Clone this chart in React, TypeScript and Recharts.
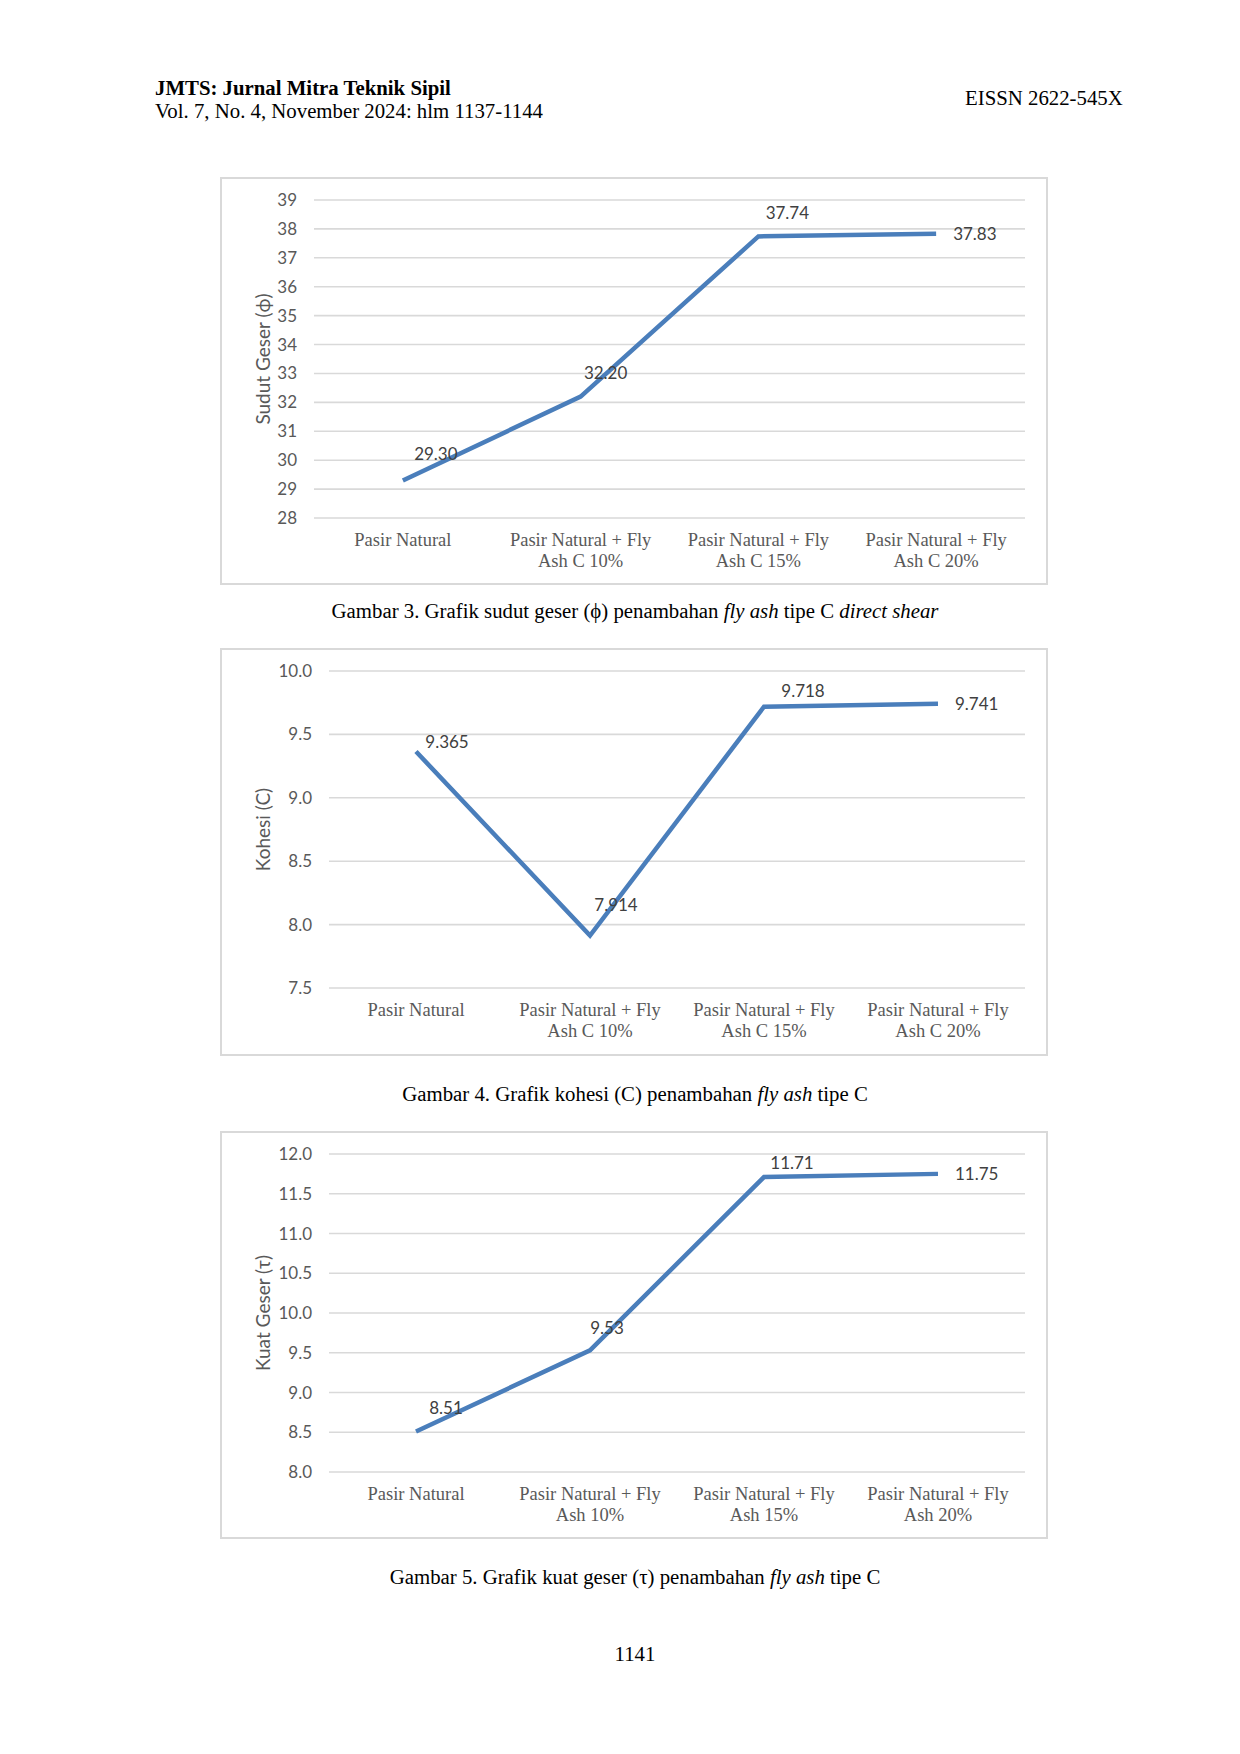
import { LineChart, Line, XAxis, YAxis, CartesianGrid, LabelList } from 'recharts'

const sudutCategories = ['Pasir Natural', 'Pasir Natural + Fly Ash C 10%', 'Pasir Natural + Fly Ash C 15%', 'Pasir Natural + Fly Ash C 20%']
const sudutValues = [29.3, 32.2, 37.74, 37.83]
const sudutTicks = [28, 29, 30, 31, 32, 33, 34, 35, 36, 37, 38, 39]

const kohesiCategories = ['Pasir Natural', 'Pasir Natural + Fly Ash C 10%', 'Pasir Natural + Fly Ash C 15%', 'Pasir Natural + Fly Ash C 20%']
const kohesiValues = [9.365, 7.914, 9.718, 9.741]
const kohesiTicks = [7.5, 8.0, 8.5, 9.0, 9.5, 10.0]

const kuatCategories = ['Pasir Natural', 'Pasir Natural + Fly Ash 10%', 'Pasir Natural + Fly Ash 15%', 'Pasir Natural + Fly Ash 20%']
const kuatValues = [8.51, 9.53, 11.71, 11.75]
const kuatTicks = [8.0, 8.5, 9.0, 9.5, 10.0, 10.5, 11.0, 11.5, 12.0]

const SERIF = '"Liberation Serif", "Times New Roman", serif'
const SANS = 'Lato, "Open Sans", sans-serif'
const CHART_W = 828
const CHART_H = 408

interface ChartProps {
  top: number
  categories: string[]
  values: number[]
  ticks: number[]
  tickDecimals: number
  labelDecimals: number
  title: string
  plot: { left: number; right: number; top: number; bottom: number }
  labelOffsets: [number, number][]
}

function CategoryTick({ x, y, payload }: any) {
  const text: string = payload.value
  const idx = text.indexOf('Fly ')
  const lines = idx >= 0 ? [text.slice(0, idx + 3), text.slice(idx + 4)] : [text]
  return (
    <text x={x} textAnchor="middle" fill="#595959" fontFamily={SERIF} fontSize={18.5}>
      {lines.map((l, i) => (
        <tspan key={i} x={x} y={y + 22 + i * 21} dominantBaseline="central">
          {l}
        </tspan>
      ))}
    </text>
  )
}

function LineChartPanel({ top, categories, values, ticks, tickDecimals, labelDecimals, title, plot, labelOffsets }: ChartProps) {
  const data = categories.map((name, i) => ({ name, v: values[i] }))
  const plotW = CHART_W - plot.left - plot.right
  const pad = plotW / 8

  const renderLabel = (props: any) => {
    const { x, y, value } = props
    const i = values.indexOf(value)
    const text = Number(value).toFixed(labelDecimals)
    if (i === values.length - 1) {
      return (
        <text x={x + 17} y={y} textAnchor="start" dominantBaseline="central" fill="#404040" fontFamily={SANS} fontSize={17}>
          {text}
        </text>
      )
    }
    const [dx, dy] = labelOffsets[i] ?? [28, -22]
    return (
      <text x={x + dx} y={y + dy} textAnchor="middle" dominantBaseline="central" fill="#404040" fontFamily={SANS} fontSize={17}>
        {text}
      </text>
    )
  }

  return (
    <div style={{ position: 'absolute', left: 220, top, width: CHART_W, height: CHART_H, outline: '2px solid #d9d9d9', outlineOffset: -2 }}>
      <LineChart width={CHART_W} height={CHART_H} data={data} margin={{ top: plot.top, right: plot.right, left: 0, bottom: 0 }}>
        <CartesianGrid vertical={false} stroke="#d9d9d9" strokeWidth={1.6} />
        <XAxis
          dataKey="name"
          interval={0}
          axisLine={false}
          tickLine={false}
          tickSize={0}
          tickMargin={0}
          height={plot.bottom}
          padding={{ left: pad, right: pad }}
          tick={<CategoryTick />}
        />
        <YAxis
          type="number"
          domain={[ticks[0], ticks[ticks.length - 1]]}
          ticks={ticks}
          interval={0}
          width={plot.left}
          axisLine={false}
          tickLine={false}
          tickSize={0}
          tickMargin={17}
          tickFormatter={(t: number) => t.toFixed(tickDecimals)}
          tick={{ fill: '#595959', fontFamily: SANS, fontSize: 17 }}
          label={(p: any) => {
            const vb = p.viewBox || {}
            const cy = (vb.y ?? plot.top) + (vb.height ?? 0) / 2
            return (
              <text
                x={42}
                y={cy}
                transform={`rotate(-90, 42, ${cy})`}
                textAnchor="middle"
                dominantBaseline="central"
                fill="#595959"
                fontFamily={SANS}
                fontSize={19}
              >
                {title}
              </text>
            )
          }}
        />
        <Line type="linear" dataKey="v" stroke="#4a7ebb" strokeWidth={4.5} dot={false} isAnimationActive={false}>
          <LabelList dataKey="v" content={renderLabel} />
        </Line>
      </LineChart>
    </div>
  )
}

const textBase = { position: 'absolute' as const, fontFamily: SERIF, fontSize: 20.8, lineHeight: '24px', color: '#000', whiteSpace: 'nowrap' as const }

export default function App() {
  return (
    <div style={{ position: 'absolute', left: 0, top: 0, width: 1240, height: 1754, background: '#fff' }}>
      <div style={{ ...textBase, left: 155, top: 76, fontWeight: 'bold' }}>JMTS: Jurnal Mitra Teknik Sipil</div>
      <div style={{ ...textBase, left: 155, top: 99 }}>Vol. 7, No. 4, November 2024: hlm 1137-1144</div>
      <div style={{ ...textBase, left: 965, top: 86 }}>EISSN 2622-545X</div>

      <LineChartPanel
        top={177}
        categories={sudutCategories}
        values={sudutValues}
        ticks={sudutTicks}
        tickDecimals={0}
        labelDecimals={2}
        title="Sudut Geser (ϕ)"
        plot={{ left: 94, right: 23, top: 23, bottom: 67 }}
        labelOffsets={[[33, -27], [25, -24], [29, -24]]}
      />
      <div style={{ ...textBase, left: 150, width: 970, textAlign: 'center', top: 599 }}>
        Gambar 3. Grafik sudut geser (ϕ) penambahan <i>fly ash</i> tipe C <i>direct shear</i>
      </div>

      <LineChartPanel
        top={648}
        categories={kohesiCategories}
        values={kohesiValues}
        ticks={kohesiTicks}
        tickDecimals={1}
        labelDecimals={3}
        title="Kohesi (C)"
        plot={{ left: 109, right: 23, top: 23, bottom: 68 }}
        labelOffsets={[[31, -10], [26, -31], [39, -16]]}
      />
      <div style={{ ...textBase, left: 150, width: 970, textAlign: 'center', top: 1082 }}>
        Gambar 4. Grafik kohesi (C) penambahan <i>fly ash</i> tipe C
      </div>

      <LineChartPanel
        top={1131}
        categories={kuatCategories}
        values={kuatValues}
        ticks={kuatTicks}
        tickDecimals={1}
        labelDecimals={2}
        title="Kuat Geser (τ)"
        plot={{ left: 109, right: 23, top: 23, bottom: 67 }}
        labelOffsets={[[30, -24], [17, -23], [28, -15]]}
      />
      <div style={{ ...textBase, left: 150, width: 970, textAlign: 'center', top: 1565 }}>
        Gambar 5. Grafik kuat geser (τ) penambahan <i>fly ash</i> tipe C
      </div>

      <div style={{ ...textBase, left: 150, width: 970, textAlign: 'center', top: 1642 }}>1141</div>
    </div>
  )
}
